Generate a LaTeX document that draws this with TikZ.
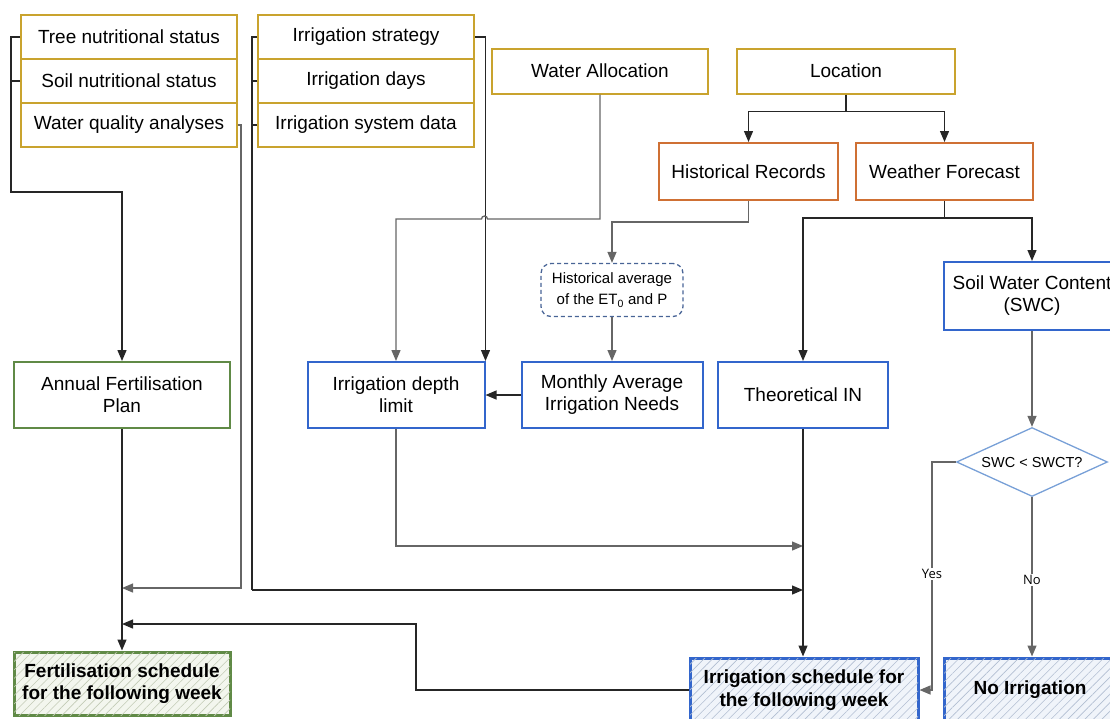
\documentclass[tikz,border=0pt]{standalone}
\usepackage{fontspec}
\setmainfont{Liberation Sans}
\newfontfamily\labelfont{Open Sans}
\usepackage{tikz}
\usetikzlibrary{shapes.geometric, arrows.meta}
\usetikzlibrary{patterns.meta, calc}

\definecolor{inputgold}{RGB}{201,163,46}
\definecolor{sourceorange}{RGB}{207,112,52}
\definecolor{calcblue}{RGB}{51,102,204}
\definecolor{fertgreen}{RGB}{96,138,70}
\definecolor{dashblue}{RGB}{72,100,150}
\definecolor{diamblue}{RGB}{120,160,215}
\definecolor{hatchbluebg}{RGB}{240,244,250}
\definecolor{hatchblueln}{RGB}{178,190,210}
\definecolor{hatchgreenbg}{RGB}{243,246,238}
\definecolor{hatchgreenln}{RGB}{195,203,182}

\begin{document}
\begin{tikzpicture}[x=1pt, y=-1pt, >={Triangle[length=11pt,width=9pt]},
    box/.style={draw, line width=2pt, align=center, inner sep=2pt,
      font=\fontsize{19}{22}\selectfont},
    inbox/.style={box, draw=inputgold, minimum width=216pt, minimum height=44pt},
    srcbox/.style={box, draw=sourceorange, minimum height=57pt},
    calcbox/.style={box, draw=calcblue, minimum height=66pt},
    fertbox/.style={box, draw=fertgreen, minimum width=216pt, minimum height=66pt},
    histbox/.style={draw=dashblue, line width=1.3pt, dash pattern=on 4pt off 3pt,
      rounded corners=10pt, align=center, minimum width=142pt, minimum height=53pt,
      font=\fontsize{15}{21}\selectfont},
    decision/.style={diamond, draw=diamblue, line width=1.3pt, aspect=2.2, inner sep=0pt,
      minimum width=151pt, minimum height=69pt, font=\fontsize{14.5}{17}\selectfont},
    outbox/.style={box, line width=3pt, font=\bfseries\fontsize{19}{22.5}\selectfont},
    fertout/.style={outbox, draw=fertgreen, minimum width=216pt, minimum height=63pt,
      fill=hatchgreenbg, postaction={pattern={Lines[angle=45,distance=6pt,line width=0.6pt]},
      pattern color=hatchgreenln}},
    irrout/.style={outbox, draw=calcblue, minimum height=64pt,
      fill=hatchbluebg, postaction={pattern={Lines[angle=45,distance=6pt,line width=0.6pt]},
      pattern color=hatchblueln}},
    wire/.style={draw=black!85, line width=1.3pt},
    softwire/.style={draw=black!60, line width=1.3pt},
    yesno/.style={fill=white, inner sep=1pt, font=\labelfont\fontsize{13}{15}\selectfont}]

    \path[use as bounding box] (0,0) rectangle (1110,718);
    \clip (0,0) rectangle (1110,718);

    % Fertilisation inputs
    \node[inbox] (tns) at (129,37) {Tree nutritional status};
    \node[inbox] (sns) at (129,81) {Soil nutritional status};
    \node[inbox] (wqa) at (129,125) {Water quality analyses};

    % Irrigation inputs
    \node[inbox] (strat) at (366,37) {Irrigation strategy};
    \node[inbox] (idays) at (366,81) {Irrigation days};
    \node[inbox] (isys) at (366,125) {Irrigation system data};
    \node[inbox, minimum height=45pt] (wal) at (600,71) {Water Allocation};
    \node[inbox, minimum width=218pt, minimum height=45pt] (loc) at (846,71) {Location};

    % Weather sources
    \node[srcbox, minimum width=179pt] (hist) at (748.5,171.5) {Historical Records};
    \node[srcbox, minimum width=177pt] (wfc) at (944.5,171.5) {Weather Forecast};

    % Calculations
    \node[histbox] (havg) at (612,290) {Historical average\\of the ET\textsubscript{0} and P};
    \node[calcbox, minimum width=181pt] (mavg) at (612,395) {Monthly Average\\Irrigation Needs};
    \node[calcbox, minimum width=177pt] (idl) at (396,395) {Irrigation depth\\limit};
    \node[calcbox, minimum width=170pt] (tin) at (803,395) {Theoretical IN};
    \node[calcbox, minimum width=176pt, minimum height=68pt] (swc) at (1032,296) {Soil Water Content\\(SWC)};
    \node[decision] (dec) at (1032,462) {SWC < SWCT?};
    \node[fertbox] (afp) at (122,395) {Annual Fertilisation\\Plan};

    % Outputs
    \node[fertout] (fsch) at (122,683.5) {Fertilisation schedule\\for the following week};
    \node[irrout, minimum width=228pt] (isch) at (804,690) {Irrigation schedule for\\the following week};
    \node[irrout, minimum width=172pt] (noirr) at (1030,690) {No Irrigation};

    % Bends
    \coordinate (lbus) at (11,192);
    \coordinate (wqturn) at (241,588);
    \coordinate (mbus) at (252,590);
    \coordinate (wahop) at (487.5,219);
    \coordinate (wacorner) at (396,219);
    \coordinate (idljoin) at (803,546);
    \coordinate (ibend) at (416,624);
    \coordinate (yesturn) at (932,690);

    % Fertilisation branch
    \draw[wire, ->] (tns.west) -| (lbus) -| (afp.north);
    \draw[wire] (sns.west) -- (sns.west -| lbus);
    \draw[softwire, ->] (wqa.east) -| (wqturn) -- (wqturn -| afp.south);
    \draw[wire, ->] (afp.south) -- (fsch.north);

    % Irrigation inputs to the schedule
    \draw[wire] (strat.west) -| (mbus);
    \draw[wire] (idays.west) -- (idays.west -| mbus);
    \draw[wire] (isys.west) -- (isys.west -| mbus);
    \draw[wire, ->] (mbus) -- (mbus -| tin.south);
    \draw[wire, ->] (strat.east) -| (idl.north east);
    \draw[softwire, ->] (wal.south) |- (wahop) arc[start angle=0, end angle=180, radius=3pt]
      -- (wacorner) -- (idl.north);

    % Weather
    \draw[wire] (loc.south) -- ++(0,17) coordinate (lsplit);
    \draw[wire, ->] (lsplit) -| (hist.north);
    \draw[wire, ->] (lsplit) -| (wfc.north);
    \draw[softwire, ->] (hist.south) -- ++(0,21) -| (havg.north);
    \draw[softwire, ->] (havg.south) -- (mavg.north);
    \draw[wire, ->] (mavg.west) -- (idl.east);
    \draw[wire] (wfc.south) -- ++(0,17) coordinate (wsplit);
    \draw[wire, ->] (wsplit) -| (tin.north);
    \draw[wire, ->] (wsplit) -| (swc.north);

    % Towards the schedules
    \draw[softwire, ->] (idl.south) |- (idljoin);
    \draw[wire, ->] (tin.south) -- (tin.south |- isch.north);
    \draw[wire, ->] (isch.west) -| (ibend) -- (ibend -| fsch.north);
    \draw[softwire, ->] (swc.south) -- (dec.north);
    \draw[softwire, ->] (dec.west) -| (yesturn) -- (isch.east);
    \draw[softwire, ->] (dec.south) -- (dec.south |- noirr.north);
    \node[yesno] (yeslbl) at (932,574) {Yes};
    \node[yesno] (nolbl) at (1032,580) {No};
\end{tikzpicture}
\end{document}
